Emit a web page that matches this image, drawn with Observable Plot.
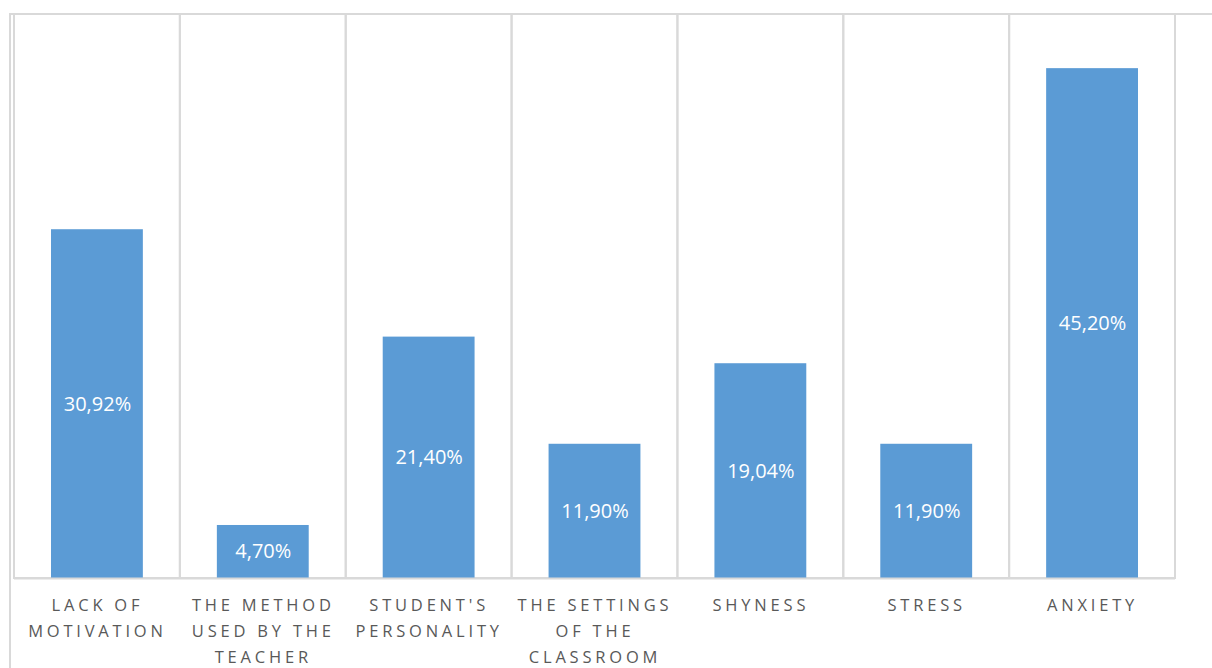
<!DOCTYPE html>
<html>
<head>
<meta charset="utf-8">
<script src="https://cdn.jsdelivr.net/npm/d3@7"></script>
<script src="https://cdn.jsdelivr.net/npm/@observablehq/plot@0.6"></script>
<style>
  html, body { margin: 0; padding: 0; background: #fff; }
  body { width: 1212px; height: 668px; position: relative; overflow: hidden; }
  #outer { position: absolute; left: 9px; top: 13px; width: 1400px; height: 800px;
           border-top: 2px solid #d9d9d9; border-left: 2px solid #d9d9d9; }
  #chart { position: absolute; left: 0; top: 0; }
  #chart svg { overflow: visible; }
  g[aria-label="x-axis tick label"] text { letter-spacing: 3.8px; }
</style>
</head>
<body>
<div id="outer"></div>
<div id="chart"></div>
<script>
const categories = ["Lack of motivation", "The method used by the teacher", "Student's personality",
  "The settings of the classroom", "Shyness", "Stress", "Anxiety"];
const tickLabels = ["LACK OF\nMOTIVATION", "THE METHOD\nUSED BY THE\nTEACHER", "STUDENT'S\nPERSONALITY",
  "THE SETTINGS\nOF THE\nCLASSROOM", "SHYNESS", "STRESS", "ANXIETY"];
const values = [30.92, 4.70, 21.40, 11.90, 19.04, 11.90, 45.20];
const valueLabels = ["30,92%", "4,70%", "21,40%", "11,90%", "19,04%", "11,90%", "45,20%"];

const data = categories.map((c, i) => ({cat: c, value: values[i], label: valueLabels[i], tick: tickLabels[i]}));
const tickMap = new Map(data.map(d => [d.cat, d.tick]));

const chart = Plot.plot({
  width: 1212,
  height: 668,
  marginLeft: 14,
  marginRight: 37,
  marginTop: 14,
  marginBottom: 90,
  style: {fontFamily: "'Open Sans', sans-serif", background: "transparent"},
  x: {domain: categories, padding: 0, round: false, label: null},
  y: {domain: [0, 50], axis: null},
  marks: [
    Plot.cell(categories, {x: d => d, fill: "none", stroke: "#d9d9d9", strokeWidth: 2, inset: 0}),
    Plot.barY(data, {x: "cat", y: "value", fill: "#5b9bd5", insetLeft: 37, insetRight: 37}),
    Plot.text(data, {x: "cat", y: d => d.value / 2, text: "label", fill: "white", fontSize: 20}),
    Plot.ruleY([0], {stroke: "#d9d9d9", strokeWidth: 2}),
    Plot.axisX({tickSize: 0, tickPadding: 14, fontSize: 16.5, lineHeight: 1.57, fill: "#595959",
      tickFormat: d => tickMap.get(d), label: null})
  ]
});
document.getElementById("chart").appendChild(chart);
</script>
</body>
</html>
